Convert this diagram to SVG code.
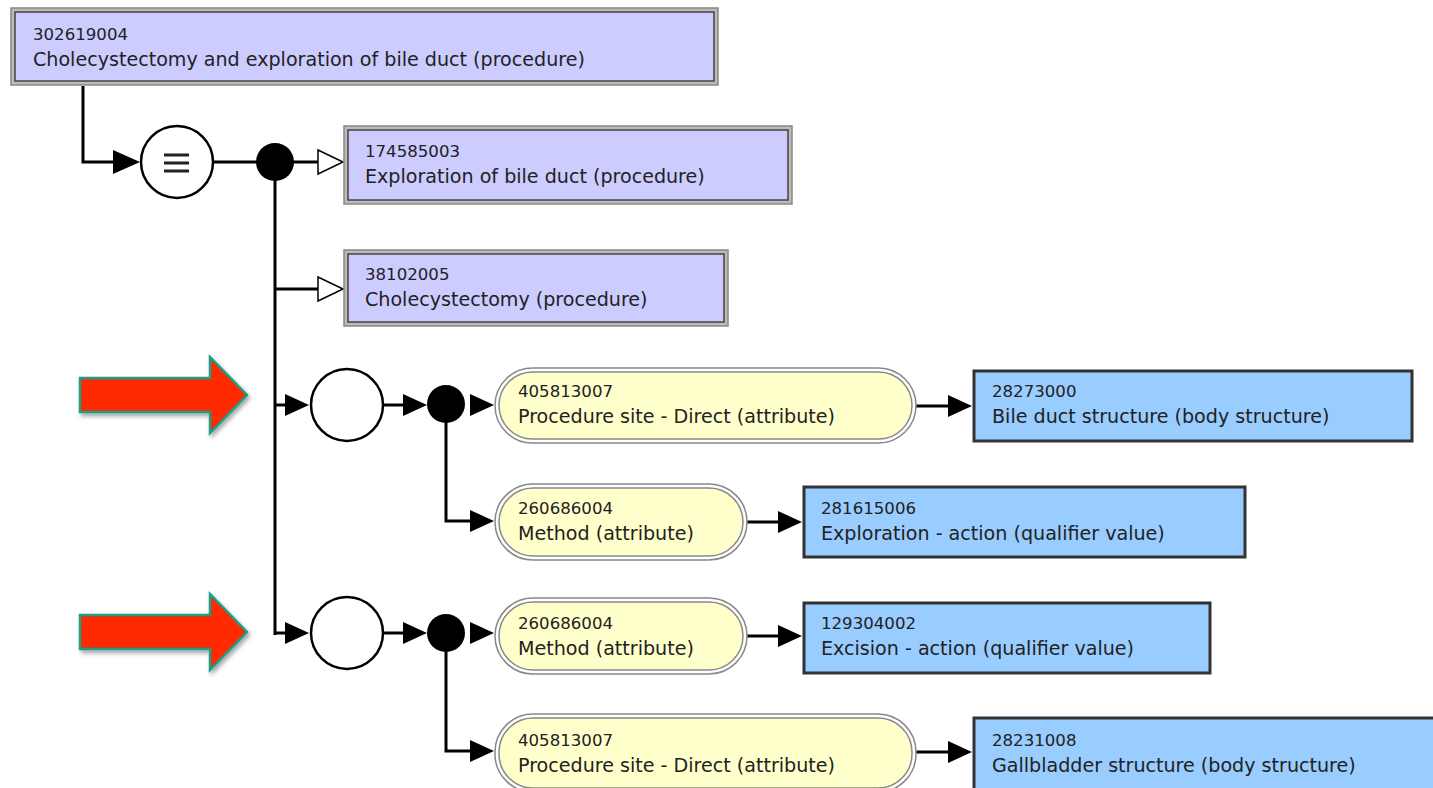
<svg xmlns="http://www.w3.org/2000/svg" width="1433" height="788" viewBox="0 0 1433 788">
<defs>
<style>
.num{font-family:"DejaVu Sans",sans-serif;font-size:16.6px;fill:#222}
.lbl{font-family:"DejaVu Sans",sans-serif;font-size:19.1px;fill:#222}
.pouter{fill:#bbb;stroke:#888;stroke-width:1.5}
.pinner{fill:#ccccff;stroke:#444;stroke-width:1.5}
.blue{fill:#99ccff;stroke:#333;stroke-width:3}
.pill-o{fill:#fff;stroke:#888;stroke-width:1.5}
.pill-i{fill:#ffffcc;stroke:#888;stroke-width:1.5}
.ln{fill:none;stroke:#000;stroke-width:3}
.red{fill:#ff2a00;stroke:#1a9e88;stroke-width:2.5}
</style>
<filter id="sh" x="-10%" y="-10%" width="130%" height="140%"><feDropShadow dx="2" dy="3" stdDeviation="2" flood-color="#000" flood-opacity="0.35"/></filter>
</defs>

<g id="red-arrows">
<path class="red" filter="url(#sh)" d="M80,378 L210,378 L210,357 L247,395 L210,433 L210,412 L80,412 Z"/>
<path class="red" filter="url(#sh)" d="M80,615 L210,615 L210,594 L247,632 L210,670 L210,649 L80,649 Z"/>
</g>

<g id="connectors">
<path class="ln" d="M83,86 L83,162 L116,162"/>
<path d="M113,150 L140,162 L113,174 Z" fill="#000"/>
<line class="ln" x1="214" y1="162" x2="260" y2="162"/>
<line class="ln" x1="290" y1="162" x2="318" y2="162"/>
<path d="M318,150 L343,162 L318,174 Z" fill="#fff" stroke="#000" stroke-width="1.5"/>
<line class="ln" x1="275" y1="162" x2="275" y2="635"/>
<line class="ln" x1="275" y1="289" x2="318" y2="289"/>
<path d="M318,277 L343,289 L318,301 Z" fill="#fff" stroke="#000" stroke-width="1.5"/>
<line class="ln" x1="275" y1="405" x2="287" y2="405"/>
<path d="M285,394 L309,405 L285,416 Z" fill="#000"/>
<line class="ln" x1="384" y1="405" x2="405" y2="405"/>
<path d="M403,394 L427,405 L403,416 Z" fill="#000"/>
<path d="M470,394 L494,405 L470,416 Z" fill="#000"/>
<line class="ln" x1="916" y1="406" x2="950" y2="406"/>
<path d="M948,395 L972,406 L948,417 Z" fill="#000"/>
<path class="ln" d="M446,405 L446,521 L472,521"/>
<path d="M470,510 L494,521 L470,532 Z" fill="#000"/>
<line class="ln" x1="747" y1="522" x2="780" y2="522"/>
<path d="M778,511 L802,522 L778,533 Z" fill="#000"/>
<line class="ln" x1="275" y1="633" x2="287" y2="633"/>
<path d="M285,622 L309,633 L285,644 Z" fill="#000"/>
<line class="ln" x1="384" y1="633" x2="405" y2="633"/>
<path d="M403,622 L427,633 L403,644 Z" fill="#000"/>
<path d="M470,622 L494,633 L470,644 Z" fill="#000"/>
<line class="ln" x1="747" y1="636" x2="780" y2="636"/>
<path d="M778,625 L802,636 L778,647 Z" fill="#000"/>
<path class="ln" d="M446,633 L446,751 L472,751"/>
<path d="M470,740 L494,751 L470,762 Z" fill="#000"/>
<line class="ln" x1="916" y1="752" x2="950" y2="752"/>
<path d="M948,741 L972,752 L948,763 Z" fill="#000"/>
</g>

<g id="eq-op">
<circle cx="177" cy="162" r="36" fill="#fff" stroke="#000" stroke-width="2.5"/>
<path d="M164,155 H189 M164,163 H189 M164,171 H189" stroke="#222" stroke-width="3"/>
</g>
<g id="dot0"><circle cx="275" cy="162" r="19" fill="#000"/></g>
<g id="grp1"><circle cx="347" cy="405" r="36" fill="#fff" stroke="#000" stroke-width="2.5"/></g>
<g id="dot1"><circle cx="446" cy="404" r="19" fill="#000"/></g>
<g id="grp2"><circle cx="347" cy="633" r="36" fill="#fff" stroke="#000" stroke-width="2.5"/></g>
<g id="dot2"><circle cx="446" cy="633" r="19" fill="#000"/></g>

<g id="n302619004">
<rect class="pouter" x="11" y="8" width="707" height="77"/>
<rect class="pinner" x="15" y="12" width="699" height="69"/>
<text class="num" x="33" y="40">302619004</text>
<text class="lbl" x="33" y="66">Cholecystectomy and exploration of bile duct (procedure)</text>
</g>
<g id="n174585003">
<rect class="pouter" x="344" y="126" width="448" height="78"/>
<rect class="pinner" x="348" y="130" width="440" height="70"/>
<text class="num" x="365" y="157">174585003</text>
<text class="lbl" x="365" y="183">Exploration of bile duct (procedure)</text>
</g>
<g id="n38102005">
<rect class="pouter" x="344" y="250" width="384" height="76"/>
<rect class="pinner" x="348" y="254" width="376" height="68"/>
<text class="num" x="365" y="280">38102005</text>
<text class="lbl" x="365" y="306">Cholecystectomy (procedure)</text>
</g>

<g id="a405813007-1">
<rect class="pill-o" x="495" y="368" width="421" height="75" rx="37.5"/>
<rect class="pill-i" x="499" y="372" width="413" height="67" rx="33.5"/>
<text class="num" x="518" y="397">405813007</text>
<text class="lbl" x="518" y="423">Procedure site - Direct (attribute)</text>
</g>
<g id="v28273000">
<rect class="blue" x="974" y="371" width="438" height="70"/>
<text class="num" x="992" y="397">28273000</text>
<text class="lbl" x="992" y="423">Bile duct structure (body structure)</text>
</g>
<g id="a260686004-1">
<rect class="pill-o" x="495" y="484" width="252" height="76" rx="38"/>
<rect class="pill-i" x="499" y="488" width="244" height="68" rx="34"/>
<text class="num" x="518" y="514">260686004</text>
<text class="lbl" x="518" y="540">Method (attribute)</text>
</g>
<g id="v281615006">
<rect class="blue" x="804" y="487" width="441" height="70"/>
<text class="num" x="821" y="514">281615006</text>
<text class="lbl" x="821" y="540">Exploration - action (qualifier value)</text>
</g>
<g id="a260686004-2">
<rect class="pill-o" x="495" y="598" width="252" height="76" rx="38"/>
<rect class="pill-i" x="499" y="602" width="244" height="68" rx="34"/>
<text class="num" x="518" y="629">260686004</text>
<text class="lbl" x="518" y="655">Method (attribute)</text>
</g>
<g id="v129304002">
<rect class="blue" x="804" y="603" width="406" height="70"/>
<text class="num" x="821" y="629">129304002</text>
<text class="lbl" x="821" y="655">Excision - action (qualifier value)</text>
</g>
<g id="a405813007-2">
<rect class="pill-o" x="495" y="714" width="421" height="78" rx="38"/>
<rect class="pill-i" x="499" y="718" width="413" height="70" rx="34"/>
<text class="num" x="518" y="746">405813007</text>
<text class="lbl" x="518" y="772">Procedure site - Direct (attribute)</text>
</g>
<g id="v28231008">
<rect class="blue" x="974" y="718" width="470" height="80"/>
<text class="num" x="992" y="746">28231008</text>
<text class="lbl" x="992" y="772">Gallbladder structure (body structure)</text>
</g>
</svg>
